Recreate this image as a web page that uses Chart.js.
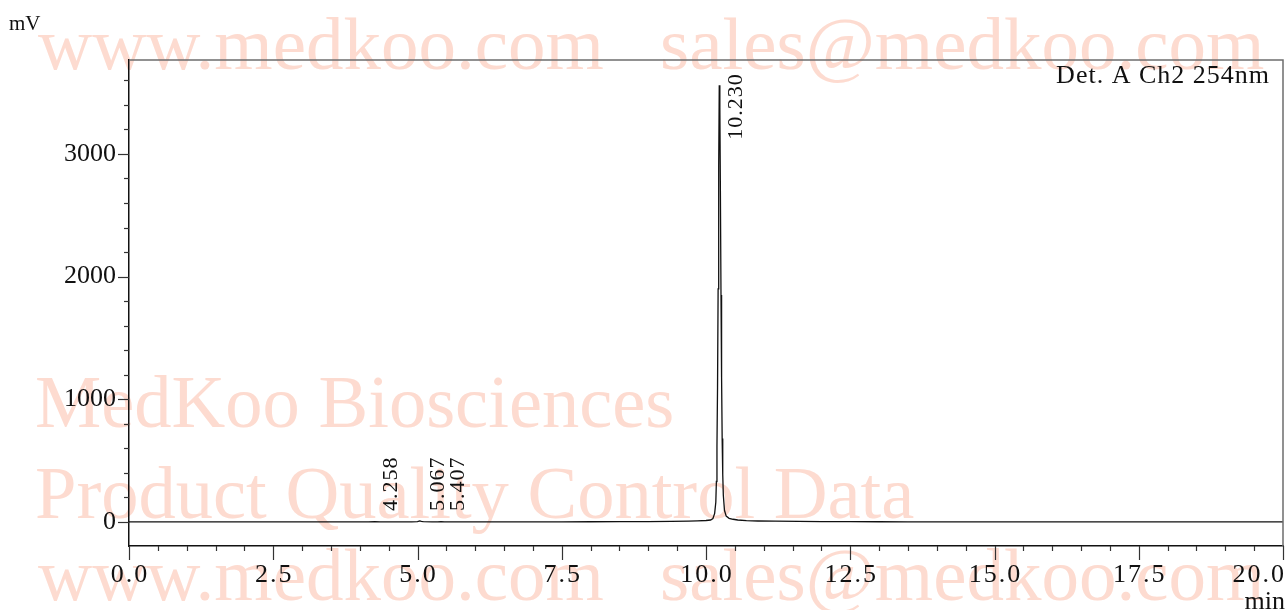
<!DOCTYPE html>
<html>
<head>
<meta charset="utf-8">
<script src="https://cdn.jsdelivr.net/npm/chart.js@4.4.1/dist/chart.umd.min.js"></script>
<style>
  html, body { margin: 0; padding: 0; background: #fff; }
  #wrap { width: 1287px; height: 610px; position: relative; }
</style>
</head>
<body>
<div id="wrap"><canvas id="chromatogram"></canvas></div>
<script>
// retention time (min) and detector signal (mV)
const timeMin = [0, 0.5, 1, 1.5, 2, 2.5, 3, 3.5, 4, 4.15, 4.258, 4.35, 4.6, 4.9, 5.0, 5.04, 5.067, 5.1, 5.25, 5.35, 5.407, 5.47, 5.7,
  6, 6.5, 7, 7.5, 8, 8.5, 9, 9.4, 9.7, 9.85, 10.0, 10.08, 10.12, 10.15, 10.17, 10.18, 10.19, 10.20, 10.21, 10.22, 10.23,
  10.24, 10.25, 10.26, 10.27, 10.28, 10.29, 10.30, 10.32, 10.35, 10.40, 10.47, 10.55, 10.7, 10.9, 11.2, 11.6, 12, 12.5,
  13, 13.5, 14, 15, 16, 17, 18, 19, 20];
const signalMv = [0, 0, 0, 0, 0, 0, 0, 0, 0.5, 1, 3, 1, 0.5, 1, 2, 8, 4, 2, 1, 1, 2, 1, 0.5,
  0.5, 0.5, 1, 1, 1.5, 2, 3, 5, 7, 9, 12, 16, 28, 70, 160, 330, 620, 1100, 1900, 2900, 3560,
  3380, 2650, 1850, 1180, 680, 390, 220, 95, 48, 30, 22, 16, 11, 8, 6, 4, 3, 2,
  1.5, 1, 1, 0.5, 0.5, 0, 0, 0, 0];

const peakTimes = [4.258, 5.067, 5.407, 10.230];
const peakLabels = ['4.258', '5.067', '5.407', '10.230'];

const xTickValues = [0, 2.5, 5, 7.5, 10, 12.5, 15, 17.5, 20];
const xTickLabels = ['0.0', '2.5', '5.0', '7.5', '10.0', '12.5', '15.0', '17.5', '20.0'];
const yTickValues = [0, 1000, 2000, 3000];
const yTickLabels = ['0', '1000', '2000', '3000'];

const detectorLabel = 'Det. A Ch2 254nm';
const yUnit = 'mV';
const xUnit = 'min';
const watermarkLines = ['www.medkoo.com', 'sales@medkoo.com', 'MedKoo Biosciences', 'Product Quality Control Data'];

const FONT = '"Liberation Serif", "Times New Roman", serif';
const Y_MIN = -196, Y_MAX = 3766;

const points = [];
for (let i = 0; i < timeMin.length; i++) points.push({ x: timeMin[i], y: signalMv[i] });

// minor tick every 200 mV
const yMinor = [];
for (let v = -200; v <= Y_MAX; v += 200) if (v >= Y_MIN) yMinor.push(v);

const decor = {
  id: 'decor',
  beforeDraw(chart) {
    const ctx = chart.ctx;
    ctx.save();
    ctx.fillStyle = '#FDDBD0';
    ctx.textBaseline = 'alphabetic';
    ctx.textAlign = 'left';
    ctx.font = '75px ' + FONT;
    ctx.fillText(watermarkLines[0], 38, 69);
    ctx.fillText(watermarkLines[1], 660, 69);
    ctx.fillText(watermarkLines[0], 38, 600);
    ctx.fillText(watermarkLines[1], 660, 600);
    ctx.font = '74.5px ' + FONT;
    ctx.fillText(watermarkLines[2], 35, 427);
    ctx.fillText(watermarkLines[3], 35, 518);
    ctx.restore();
  },
  afterDraw(chart) {
    const { ctx, chartArea: a, scales: { x, y } } = chart;
    ctx.save();

    // top and right frame
    ctx.strokeStyle = '#6e6e6e';
    ctx.lineWidth = 1.5;
    ctx.beginPath();
    ctx.moveTo(a.left, a.top);
    ctx.lineTo(a.right, a.top);
    ctx.lineTo(a.right, a.bottom);
    ctx.stroke();

    // tick marks, long on labelled values
    ctx.strokeStyle = '#333';
    ctx.lineWidth = 1.2;
    x.ticks.forEach(t => {
      const px = Math.round(x.getPixelForValue(t.value)) + 0.5;
      const major = xTickValues.some(v => Math.abs(v - t.value) < 1e-6);
      ctx.beginPath();
      ctx.moveTo(px, a.bottom);
      ctx.lineTo(px, a.bottom + (major ? 14 : 5));
      ctx.stroke();
    });
    y.ticks.forEach(t => {
      const py = Math.round(y.getPixelForValue(t.value)) + 0.5;
      if (py > a.bottom) return;
      const major = yTickValues.includes(t.value);
      ctx.beginPath();
      ctx.moveTo(a.left, py);
      ctx.lineTo(a.left - (major ? 11 : 5), py);
      ctx.stroke();
    });

    // x tick labels, kept inside the canvas
    ctx.fillStyle = '#111';
    ctx.font = '26px ' + FONT;
    ctx.letterSpacing = '2px';
    ctx.textAlign = 'center';
    ctx.textBaseline = 'alphabetic';
    xTickValues.forEach((v, i) => {
      const w = ctx.measureText(xTickLabels[i]).width;
      let px = x.getPixelForValue(v) + 1;
      px = Math.min(px, chart.width - 1 - w / 2);
      ctx.fillText(xTickLabels[i], px, 582);
    });

    // units and detector
    ctx.letterSpacing = '0px';
    ctx.textAlign = 'left';
    ctx.font = '21px ' + FONT;
    ctx.fillText(yUnit, 9, 30);
    ctx.textAlign = 'right';
    ctx.font = '26px ' + FONT;
    ctx.fillText(xUnit, chart.width - 2, 609);
    ctx.letterSpacing = '1px';
    ctx.fillText(detectorLabel, 1270, 83);

    // peak retention time labels, rotated
    ctx.font = '22px ' + FONT;
    ctx.letterSpacing = '1px';
    const y0 = y.getPixelForValue(0);
    peakTimes.forEach((pt, i) => {
      let best = 0;
      timeMin.forEach((t, j) => { if (Math.abs(t - pt) < Math.abs(timeMin[best] - pt)) best = j; });
      const w = ctx.measureText(peakLabels[i]).width;
      const end = y.getPixelForValue(signalMv[best]) - 12;
      const start = Math.min(end + w, y0 - 11);
      ctx.save();
      ctx.translate(x.getPixelForValue(pt) + 17, start);
      ctx.rotate(-Math.PI / 2);
      ctx.textAlign = 'left';
      ctx.textBaseline = 'middle';
      ctx.fillText(peakLabels[i], 0, 0);
      ctx.restore();
    });

    ctx.restore();
  }
};

new Chart(document.getElementById('chromatogram'), {
  type: 'line',
  data: {
    datasets: [{
      data: points,
      borderColor: '#111',
      borderWidth: 1.3,
      pointRadius: 0,
      tension: 0,
      fill: false
    }]
  },
  options: {
    responsive: true,
    maintainAspectRatio: false,
    animation: false,
    layout: { padding: { top: 60, right: 4, left: 0, bottom: 0 } },
    plugins: { legend: { display: false }, tooltip: { enabled: false } },
    scales: {
      x: {
        type: 'linear',
        min: 0,
        max: 20,
        ticks: { stepSize: 0.5, autoSkip: false, maxRotation: 0, callback: () => '' },
        grid: { drawOnChartArea: false, drawTicks: false },
        border: { color: '#111', width: 1.5 },
        afterFit: s => { s.height = 64; s.paddingLeft = 0; s.paddingRight = 0; }
      },
      y: {
        min: Y_MIN,
        max: Y_MAX,
        afterBuildTicks: s => { s.ticks = yMinor.map(v => ({ value: v })); },
        ticks: {
          autoSkip: false,
          padding: 13,
          color: '#111',
          font: { family: FONT, size: 26 },
          callback: v => {
            const k = yTickValues.indexOf(v);
            return k >= 0 ? yTickLabels[k] : '';
          }
        },
        grid: { drawOnChartArea: false, drawTicks: false },
        border: { color: '#111', width: 1.5 },
        afterFit: s => { s.width = 129; s.paddingTop = 0; s.paddingBottom = 0; }
      }
    }
  },
  plugins: [decor]
});
</script>
</body>
</html>
